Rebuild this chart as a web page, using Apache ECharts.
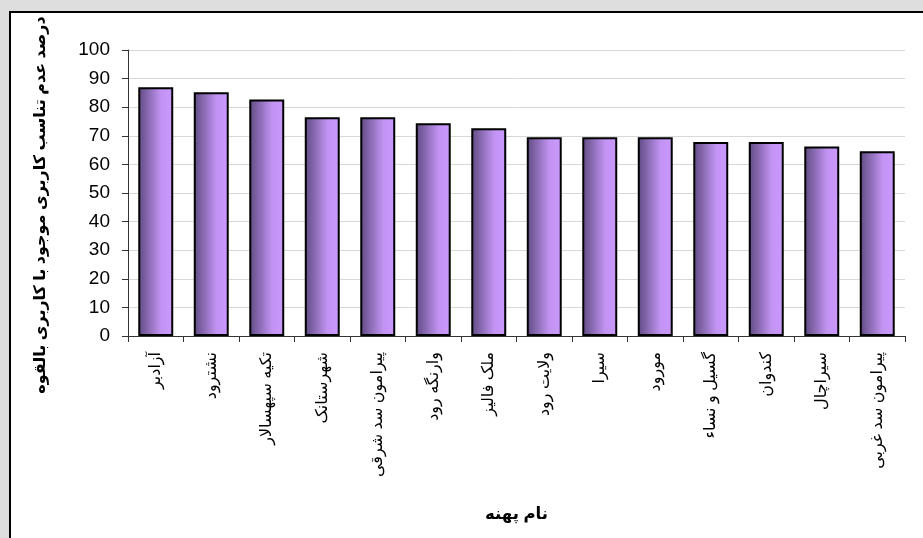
<!DOCTYPE html>
<html>
<head>
<meta charset="utf-8">
<script src="https://cdn.jsdelivr.net/npm/echarts@6/dist/echarts.min.js"></script>
<style>
html,body{margin:0;padding:0;background:#dedede;}
#c{width:923px;height:538px;}
</style>
</head>
<body>
<div id="c"></div>
<script>
const categories = ['آزادبر','نشترود','تکیه سپهسالار','شهرستانک','پیرامون سد شرقی','وارنگه رود','ملک فالیز','ولایت رود','سیرا','مورود','گسیل و نساء','کندوان','سیراچال','پیرامون سد غربی'];
const values = [87, 85.2, 82.7, 76.5, 76.5, 74.4, 72.6, 69.5, 69.5, 69.5, 67.8, 67.8, 66.3, 64.6];
const yTitle = 'درصد عدم تناسب کاربری موجود با کاربری بالقوه';
const xTitle = 'نام پهنه';

const chart = echarts.init(document.getElementById('c'), null, {renderer:'canvas'});
const fontFam = '"Liberation Sans", Arial, "DejaVu Sans", sans-serif';
chart.setOption({
  backgroundColor: '#dedede',
  animation: false,
  graphic: [{
    type: 'rect', left: 9, top: 11, z: -10,
    shape: {x: 0, y: 0, width: 930, height: 540},
    style: {fill: '#ffffff', stroke: '#000000', lineWidth: 2}
  }, {
    type: 'text', x: 41, y: 205, rotation: Math.PI / 2, z: 10,
    style: {text: yTitle, fontFamily: fontFam, fontSize: 16, fontWeight: 'bold', fill: '#000', align: 'center', verticalAlign: 'middle'}
  }],
  grid: {left: 128, right: 18, top: 50, bottom: 202, containLabel: false},
  xAxis: {
    type: 'category',
    data: categories,
    name: xTitle,
    nameLocation: 'middle',
    nameGap: 170,
    nameTextStyle: {fontFamily: fontFam, fontSize: 16.5, fontWeight: 'bold', color: '#000'},
    axisLine: {lineStyle: {color: '#333', width: 1}},
    axisTick: {show: true, alignWithLabel: false, length: 6, lineStyle: {color: '#333'}},
    axisLabel: {rotate: 90, interval: 0, margin: 16, fontFamily: fontFam, fontSize: 16, color: '#000'}
  },
  yAxis: {
    type: 'value',
    min: 0, max: 100, interval: 10,
    axisLine: {show: true, lineStyle: {color: '#333', width: 1}},
    axisTick: {show: true, length: 6, lineStyle: {color: '#333'}},
    axisLabel: {margin: 18, fontFamily: fontFam, fontSize: 19, color: '#000'},
    splitLine: {show: true, lineStyle: {color: '#d8d8d8', width: 1}}
  },
  series: [{
    type: 'bar',
    data: values,
    barCategoryGap: '37%',
    itemStyle: {
      color: new echarts.graphic.LinearGradient(0, 0, 1, 0, [
        {offset: 0, color: '#5e4a80'},
        {offset: 0.65, color: '#c193f2'},
        {offset: 1, color: '#cc99ff'}
      ]),
      borderColor: '#000',
      borderWidth: 2
    }
  }]
});
</script>
</body>
</html>
